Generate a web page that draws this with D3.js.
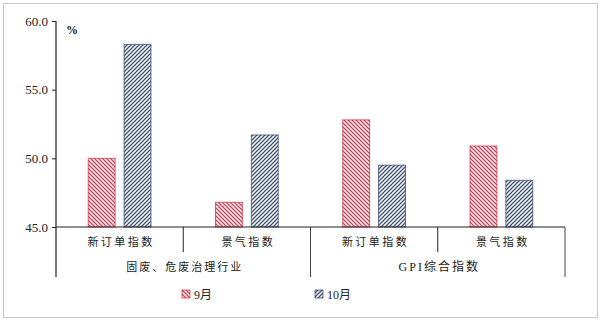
<!DOCTYPE html>
<html>
<head>
<meta charset="utf-8">
<script src="https://cdn.jsdelivr.net/npm/d3@7"></script>
<style>
  body { margin: 0; background: #fff; }
  svg text { font-family: "Liberation Serif", "Noto Sans CJK SC", serif; fill: #222; }
</style>
</head>
<body>
<svg id="chart" width="600" height="321"></svg>
<script>
// chart data
const categories = ['新订单指数', '景气指数', '新订单指数', '景气指数'];
const groups = ['固废、危废治理行业', 'GPI综合指数'];
const seriesNames = ['9月', '10月'];
const septValues = [50.0, 46.8, 52.8, 50.9];
const octValues = [58.3, 51.7, 49.5, 48.4];
const yTicks = [45, 50, 55, 60];

const svg = d3.select('#chart');
const plotLeft = 56, plotRight = 565, plotTop = 21, plotBottom = 227;

// frame
svg.append('rect')
    .attr('x', 3.5).attr('y', 3.5)
    .attr('width', 594).attr('height', 314)
    .attr('fill', 'none')
    .attr('stroke', '#c8c8c8')
    .attr('stroke-width', 1);

// hatch patterns
const defs = svg.append('defs');
const red = '#d2384f', blue = '#3d4f75';
function hatch(id, color, dir) {
    const p = defs.append('pattern')
        .attr('id', id)
        .attr('patternUnits', 'userSpaceOnUse')
        .attr('width', 4).attr('height', 4);
    p.append('rect').attr('width', 4).attr('height', 4).attr('fill', '#fff');
    const path = p.append('path');
    if (dir > 0) {
        path.attr('d', 'M-1,1 l2,-2 M0,4 l4,-4 M3,5 l2,-2');
    } else {
        path.attr('d', 'M-1,3 l2,2 M0,0 l4,4 M3,-1 l2,2');
    }
    path.attr('stroke', color).attr('stroke-width', 1.3);
}
hatch('hSep', red, -1);
hatch('hOct', blue, 1);

const x = d3.scaleBand().domain(d3.range(categories.length)).range([plotLeft, plotRight]);
const y = d3.scaleLinear().domain([45, 60]).range([plotBottom, plotTop]);

// y axis
const yAxis = svg.append('g')
    .attr('transform', `translate(${plotLeft},0)`)
    .call(d3.axisLeft(y).tickValues(yTicks).tickFormat(d3.format('.1f')).tickSize(4).tickPadding(4));
yAxis.select('.domain').remove();
yAxis.selectAll('line').attr('stroke', '#222');
yAxis.selectAll('text').attr('font-size', 13).style('font-family', '"Liberation Serif", serif');
svg.append('line')
    .attr('x1', plotLeft).attr('x2', plotLeft)
    .attr('y1', y(60)).attr('y2', 277)
    .attr('stroke', '#222').attr('stroke-width', 1.2);

svg.append('text')
    .attr('x', 66).attr('y', 34)
    .attr('font-size', 12)
    .attr('font-weight', 'bold')
    .text('%');

// bars
const bx = d3.scaleBand().domain([0, 1]).range([0, x.bandwidth()]).paddingInner(0.25).paddingOuter(0.9);
[septValues, octValues].forEach((vals, si) => {
    svg.append('g').selectAll('rect')
        .data(vals)
        .enter()
        .append('rect')
        .attr('x', (d, i) => x(i) + bx(si))
        .attr('y', d => y(d))
        .attr('width', bx.bandwidth())
        .attr('height', d => y(45) - y(d))
        .attr('fill', si === 0 ? 'url(#hSep)' : 'url(#hOct)')
        .attr('stroke', si === 0 ? red : blue)
        .attr('stroke-opacity', 0.8)
        .attr('stroke-width', 1);
});

// x axis line
svg.append('line')
    .attr('x1', plotLeft).attr('x2', plotRight)
    .attr('y1', plotBottom).attr('y2', plotBottom)
    .attr('stroke', '#222').attr('stroke-width', 1.2);

// category dividers
[1, 3].forEach(i => {
    svg.append('line')
        .attr('x1', x(i)).attr('x2', x(i))
        .attr('y1', plotBottom).attr('y2', 252)
        .attr('stroke', '#222');
});
[2, 4].forEach(i => {
    const xx = i < 4 ? x(i) : plotRight;
    svg.append('line')
        .attr('x1', xx).attr('x2', xx)
        .attr('y1', plotBottom).attr('y2', 277)
        .attr('stroke', '#444');
});

// category labels
svg.append('g').selectAll('text')
    .data(categories)
    .enter()
    .append('text')
    .attr('x', (d, i) => x(i) + x.bandwidth() / 2 + 1.5)
    .attr('y', 246)
    .attr('text-anchor', 'middle')
    .attr('font-size', 11)
    .attr('letter-spacing', 2.5)
    .text(d => d);

svg.append('g').selectAll('text')
    .data(groups)
    .enter()
    .append('text')
    .attr('x', (d, i) => x(i * 2) + x.bandwidth() + 1.5)
    .attr('y', 271)
    .attr('text-anchor', 'middle')
    .attr('font-size', (d, i) => i === 0 ? 11 : 12)
    .attr('letter-spacing', (d, i) => i === 0 ? 2 : 2)
    .text(d => d);

// legend
const legendX = [182, 315];
seriesNames.forEach((name, i) => {
    svg.append('rect')
        .attr('x', legendX[i]).attr('y', 290)
        .attr('width', 8).attr('height', 8)
        .attr('fill', i === 0 ? 'url(#hSep)' : 'url(#hOct)')
        .attr('stroke', i === 0 ? red : blue)
        .attr('stroke-width', 0.8);
    svg.append('text')
        .attr('x', legendX[i] + 12).attr('y', 298.5)
        .attr('font-size', 12)
        .text(name);
});
</script>
</body>
</html>
